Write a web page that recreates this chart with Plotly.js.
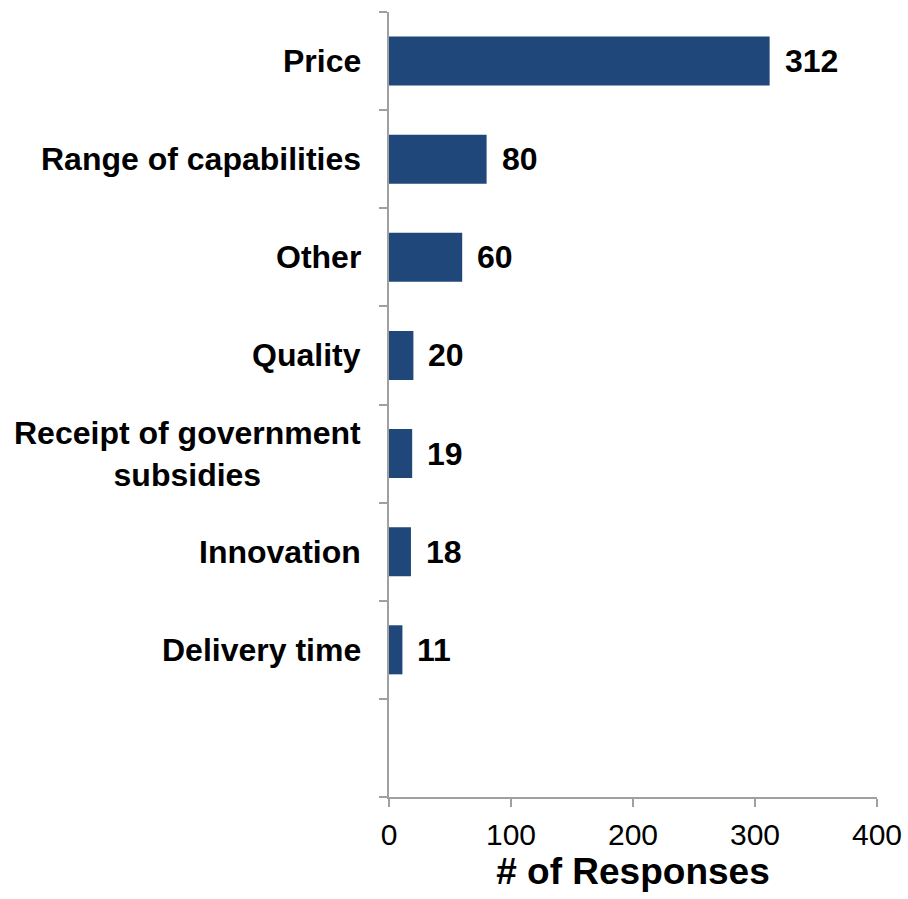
<!DOCTYPE html>
<html>
<head>
<meta charset="utf-8">
<script src="https://cdn.plot.ly/plotly-3.0.1.min.js"></script>
<style>html,body{margin:0;padding:0;background:#fff;}#chart{width:908px;height:899px;}</style>
</head>
<body>
<div id="chart"></div>
<script>
const categories = ["Price", "Range of capabilities", "Other", "Quality", "Receipt of government<br>subsidies", "Innovation", "Delivery time"];
const responses = [312, 80, 60, 20, 19, 18, 11];
const xTicks = [0, 100, 200, 300, 400];
const axisTitle = "# of Responses";
const emptySlots = 1;

const FONT = "'Liberation Sans', Arial, sans-serif";
const BAR = "#1F477A";
const AXIS = "#A0A0A0";

const slots = categories.length + emptySlots;
const pos = categories.map((_, i) => i);
const boundaries = Array.from({length: slots + 1}, (_, i) => i - 0.5);

const trace = {
  type: "bar",
  orientation: "h",
  x: responses,
  y: pos,
  width: 0.5,
  marker: {color: BAR, line: {width: 0}},
  hoverinfo: "none"
};

const labelAnns = categories.map((c, i) => ({
  xref: "paper", yref: "y", x: 0, y: pos[i],
  text: "<b>" + c + "</b>", showarrow: false,
  xanchor: "right", yanchor: "middle", align: "center", xshift: -26,
  font: {family: FONT, size: 32, color: "#000"}
}));
const valueAnns = categories.map((c, i) => ({
  xref: "x", yref: "y", x: responses[i], y: pos[i],
  text: "<b>" + responses[i] + "</b>", showarrow: false,
  xanchor: "left", yanchor: "middle", xshift: 13,
  font: {family: FONT, size: 32, color: "#000"}
}));

const layout = {
  width: 908, height: 899,
  margin: {l: 389, r: 31, t: 12, b: 102},
  paper_bgcolor: "#fff", plot_bgcolor: "#fff",
  showlegend: false,
  font: {family: FONT, color: "#000"},
  xaxis: {
    range: [0, 400], tickvals: xTicks, ticktext: xTicks.map(String),
    showgrid: false, zeroline: false,
    showline: true, linecolor: AXIS, linewidth: 2,
    ticks: "outside", ticklen: 8, tickwidth: 2, tickcolor: AXIS,
    tickfont: {family: FONT, size: 30, color: "#000"},
    ticklabelstandoff: 2,
    title: {text: "<b>" + axisTitle + "</b>", font: {family: FONT, size: 37, color: "#000"}, standoff: 8}
  },
  yaxis: {
    type: "linear",
    range: [slots - 0.5, -0.5],
    tickvals: boundaries,
    ticktext: boundaries.map(() => ""),
    showgrid: false, zeroline: false,
    showline: true, linecolor: AXIS, linewidth: 2,
    ticks: "outside", ticklen: 8, tickwidth: 2, tickcolor: AXIS,
    showticklabels: false
  },
  annotations: labelAnns.concat(valueAnns)
};

Plotly.newPlot("chart", [trace], layout, {staticPlot: true, displayModeBar: false});
</script>
</body>
</html>
